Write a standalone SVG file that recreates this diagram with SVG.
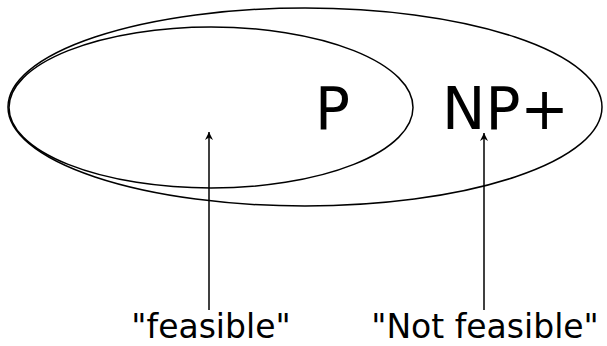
<svg xmlns="http://www.w3.org/2000/svg" width="607" height="346" viewBox="0 0 607 346">
<style>
.set{fill:none;stroke:#000;stroke-width:1.5}
.big{font-family:"DejaVu Sans",sans-serif;font-size:58px;fill:#000}
.lbl{font-family:"DejaVu Sans",sans-serif;font-size:33px;fill:#000;text-anchor:middle}
.con{stroke:#000;stroke-width:1.5;fill:none;marker-end:url(#ah)}
</style>
<defs>
<marker id="ah" viewBox="0 0 10 10" refX="10" refY="5" markerWidth="8" markerHeight="8" markerUnits="userSpaceOnUse" orient="auto">
<path d="M0,0 L10,5 L0,10 L3,5 Z" fill="#000"/>
</marker>
</defs>
<g id="NP">
<ellipse class="set" cx="305" cy="107" rx="297" ry="99"/>
<text class="big" x="442" y="129">NP+</text>
</g>
<g id="P">
<ellipse class="set" cx="211" cy="107.5" rx="202" ry="80.5"/>
<text class="big" x="315" y="129">P</text>
</g>
<g id="feasible">
<text class="lbl" x="211" y="338">"feasible"</text>
</g>
<g id="notfeasible">
<text class="lbl" x="485" y="338">"Not feasible"</text>
</g>
<g id="connectors">
<line class="con" x1="209" y1="310" x2="209" y2="132"/>
<line class="con" x1="484" y1="310" x2="484" y2="133"/>
</g>
</svg>
